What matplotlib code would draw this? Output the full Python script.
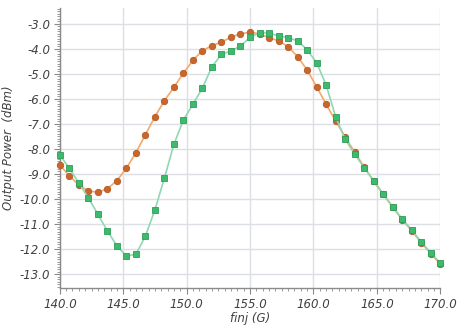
import matplotlib.pyplot as plt
from matplotlib.ticker import MultipleLocator, FormatStrFormatter

# frequency sweep, 0.75 GHz step
finj = [140.0 + 0.75 * i for i in range(41)]

p_orange = [-8.64, -9.07, -9.44, -9.68, -9.73, -9.59, -9.27, -8.77, -8.15, -7.43,
            -6.71, -6.07, -5.53, -4.97, -4.45, -4.07, -3.87, -3.73, -3.53, -3.40,
            -3.33, -3.40, -3.55, -3.68, -3.91, -4.31, -4.84, -5.51, -6.21, -6.88,
            -7.51, -8.13, -8.71, -9.29, -9.81, -10.33, -10.82, -11.27, -11.74, -12.18,
            -12.60]
p_green = [-8.24, -8.77, -9.36, -9.95, -10.61, -11.27, -11.87, -12.28, -12.21, -11.48,
           -10.44, -9.16, -7.81, -6.84, -6.21, -5.56, -4.71, -4.22, -4.08, -3.89,
           -3.54, -3.35, -3.37, -3.48, -3.55, -3.68, -4.03, -4.55, -5.44, -6.71,
           -7.61, -8.20, -8.75, -9.27, -9.79, -10.31, -10.79, -11.24, -11.71, -12.15,
           -12.55]

TXT = "#404040"
GRID = "#dcdfe3"

fig = plt.figure(figsize=(4.6, 3.27), dpi=100)
ax = fig.add_axes([0.130, 0.119, 0.827, 0.857])

ax.plot(finj, p_orange, color="#f5a86a", lw=1.2, marker="o", ms=4.6,
        mfc="#c8662c", mec="#b45a24", mew=0.6, zorder=3, clip_on=False)
ax.plot(finj, p_green, color="#8fd8b2", lw=1.2, marker="s", ms=4.4,
        mfc="#3dba6e", mec="#2e9e58", mew=0.6, zorder=4, clip_on=False)

ax.set_xlim(140, 170)
ax.set_ylim(-13.56, -2.36)
ax.xaxis.set_major_locator(MultipleLocator(5))
ax.xaxis.set_minor_locator(MultipleLocator(0.5))
ax.yaxis.set_major_locator(MultipleLocator(1))
ax.yaxis.set_minor_locator(MultipleLocator(0.1))
ax.xaxis.set_major_formatter(FormatStrFormatter("%.1f"))
ax.yaxis.set_major_formatter(FormatStrFormatter("%.1f"))

ax.grid(True, which="major", color=GRID, lw=1.0, zorder=0)
ax.set_axisbelow(True)
for s in ["top", "right"]:
    ax.spines[s].set_visible(False)
for s in ["left", "bottom"]:
    ax.spines[s].set_color("#8a8a8a")
    ax.spines[s].set_linewidth(1.0)

ax.tick_params(which="major", direction="out", length=4, color="#8a8a8a",
               labelsize=8.5, labelcolor=TXT, pad=3)
ax.tick_params(which="minor", direction="out", length=2, color="#8a8a8a")
for lab in ax.get_xticklabels() + ax.get_yticklabels():
    lab.set_fontstyle("italic")

ax.set_xlabel("finj (G)", fontsize=8.5, style="italic", color=TXT, labelpad=1)
ax.set_ylabel("Output Power  (dBm)", fontsize=8.5, style="italic", color=TXT, labelpad=3)

fig.savefig("out.png", dpi=100)
